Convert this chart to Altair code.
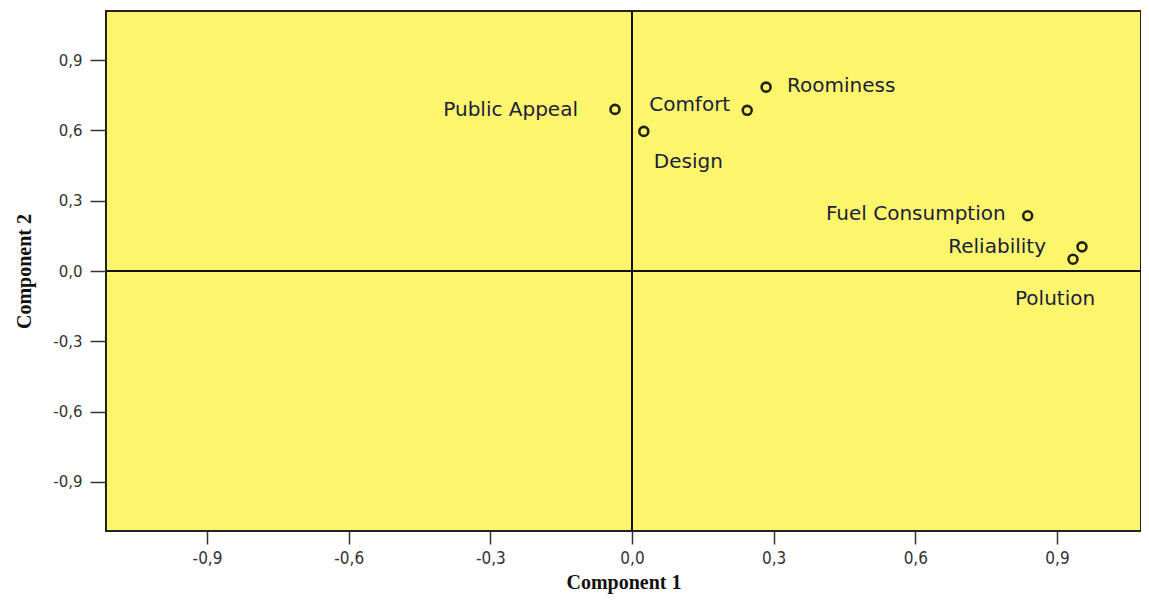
import altair as alt
import pandas as pd

labels = ["Public Appeal", "Design", "Comfort", "Roominess", "Fuel Consumption", "Reliability", "Polution"]
comp1 = [-0.036, 0.025, 0.244, 0.284, 0.838, 0.953, 0.934]
comp2 = [0.690, 0.596, 0.686, 0.785, 0.236, 0.103, 0.050]
ticks = [-0.9, -0.6, -0.3, 0.0, 0.3, 0.6, 0.9]

df = pd.DataFrame({"label": labels, "c1": comp1, "c2": comp2})

# label placement (pixel offsets relative to the point, alignment)
label_style = {
    "Public Appeal": (-37, 1, "right"),
    "Design": (10, 31, "left"),
    "Comfort": (-17, -5, "right"),
    "Roominess": (21, -1, "left"),
    "Fuel Consumption": (-22, -2, "right"),
    "Reliability": (-36, 0, "right"),
    "Polution": (-58, 40, "left"),
}

label_expr = "replace(replace(format(datum.value, '.1f'), '.', ','), '\u2212', '-')"

xscale = alt.Scale(domain=[-1.114, 1.078], nice=False, zero=False)
yscale = alt.Scale(domain=[-1.11, 1.11], nice=False, zero=False)

xaxis = alt.Axis(values=ticks, labelExpr=label_expr, grid=False, domain=False,
                 tickSize=13, tickWidth=1.5, tickColor="#333333",
                 labelFont="Liberation Sans Narrow, DejaVu Sans Condensed, sans-serif",
                 labelFontSize=17, labelColor="#333333",
                 labelPadding=6, title="Component 1", titleFont="Liberation Serif",
                 titleFontSize=20, titleFontWeight="bold", titleColor="#111111",
                 titlePadding=6)
yaxis = alt.Axis(values=ticks, labelExpr=label_expr, grid=False, domain=False,
                 tickSize=16, tickWidth=1.5, tickColor="#333333",
                 labelFont="DejaVu Sans", labelFontSize=15, labelColor="#333333",
                 labelPadding=8, title="Component 2", titleFont="Liberation Serif",
                 titleFontSize=20, titleFontWeight="bold", titleColor="#111111",
                 titlePadding=18)

base = alt.Chart(df)

zero_df = pd.DataFrame({"z": [0.0]})
vline = alt.Chart(zero_df).mark_rule(color="#111111", strokeWidth=2).encode(
    x=alt.X("z:Q", scale=xscale, axis=xaxis))
hline = alt.Chart(zero_df).mark_rule(color="#111111", strokeWidth=2).encode(
    y=alt.Y("z:Q", scale=yscale, axis=yaxis))

points = base.mark_point(shape="circle", filled=False, size=80, strokeWidth=2.6,
                         color="#222211", opacity=1).encode(
    x=alt.X("c1:Q", scale=xscale, axis=xaxis),
    y=alt.Y("c2:Q", scale=yscale, axis=yaxis),
)

texts = []
for lab in labels:
    dx, dy, al = label_style[lab]
    texts.append(
        base.transform_filter(alt.datum.label == lab).mark_text(
            dx=dx, dy=dy, align=al, baseline="middle", font="DejaVu Sans",
            fontSize=20, color="#1c1c3c").encode(
            x=alt.X("c1:Q", scale=xscale, axis=xaxis),
            y=alt.Y("c2:Q", scale=yscale, axis=yaxis),
            text="label:N")
    )

chart = alt.layer(vline, hline, points, *texts).properties(
    width=1035, height=520,
    autosize=alt.AutoSizeParams(type="none"),
    padding={"left": 98, "top": 3, "right": 0, "bottom": 66},
    background="white",
).configure_view(
    fill="#FDF66C", stroke="#222222", strokeWidth=2
)

chart.save("out.html", embed_options={"renderer": "svg", "actions": False})
